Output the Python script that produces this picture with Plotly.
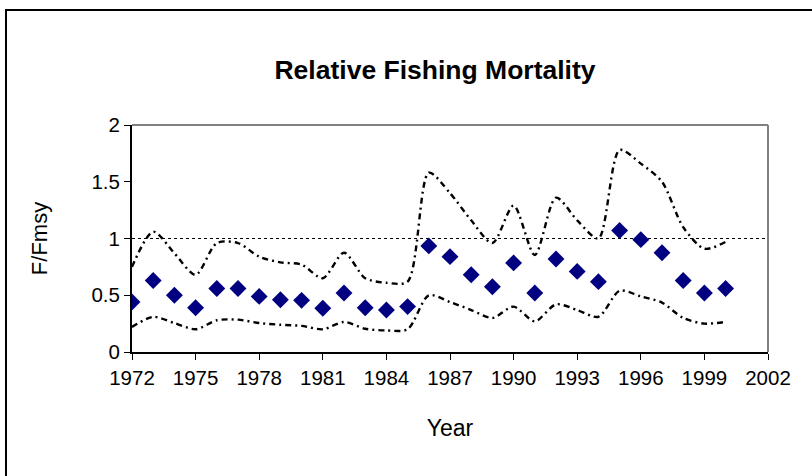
import plotly.graph_objects as go

years = list(range(1972, 2001))
f_ratio = [0.44, 0.63, 0.50, 0.39, 0.56, 0.56, 0.49, 0.46, 0.455, 0.385, 0.52, 0.39, 0.37, 0.40,
           0.935, 0.84, 0.68, 0.575, 0.785, 0.52, 0.82, 0.71, 0.62, 1.07, 0.99, 0.875, 0.63, 0.52, 0.56]
upper = [0.75, 1.06, 0.87, 0.68, 0.96, 0.96, 0.84, 0.79, 0.77, 0.65, 0.875, 0.65, 0.61, 0.62,
         1.58, 1.40, 1.16, 0.96, 1.29, 0.855, 1.36, 1.16, 1.0, 1.78, 1.66, 1.50, 1.10, 0.91, 0.97]
lower = [0.22, 0.31, 0.255, 0.20, 0.28, 0.285, 0.255, 0.24, 0.23, 0.20, 0.265, 0.205, 0.19, 0.20,
         0.50, 0.44, 0.37, 0.30, 0.40, 0.27, 0.42, 0.37, 0.31, 0.54, 0.49, 0.435, 0.30, 0.25, 0.265]
ref_years = [1972, 2002]
ref_vals = [1, 1]
x_ticks = list(range(1972, 2003, 3))
y_ticks = [0, 0.5, 1, 1.5, 2]
y_labels = ["0", "0.5", "1", "1.5", "2"]

FONT = "Liberation Sans, Arial, sans-serif"

fig = go.Figure()
fig.add_trace(go.Scatter(x=ref_years, y=ref_vals, mode="lines",
                         line=dict(color="black", width=1, dash="dot"), hoverinfo="skip"))
fig.add_trace(go.Scatter(x=years, y=upper, mode="lines",
                         line=dict(color="black", width=2.4, dash="6px,4px,2px,4px",
                                   shape="spline", smoothing=0.8)))
fig.add_trace(go.Scatter(x=years, y=lower, mode="lines",
                         line=dict(color="black", width=2.4, dash="6px,4px,2px,4px",
                                   shape="spline", smoothing=0.8)))
fig.add_trace(go.Scatter(x=years, y=f_ratio, mode="markers",
                         marker=dict(symbol="diamond", size=13, color="#000080",
                                     line=dict(width=0))))

W, H = 812, 476
L, R, T, B = 132, 768, 125, 352
pw, ph = R - L, B - T

def px(xp):
    return (xp - L) / pw

def py(yp):
    return (B - yp) / ph

fig.update_layout(
    width=W, height=H,
    margin=dict(l=L, r=W - R, t=T, b=H - B, autoexpand=False),
    paper_bgcolor="white", plot_bgcolor="white",
    showlegend=False,
    font=dict(family=FONT, color="black", size=20),
    title=dict(text="<b>Relative Fishing Mortality</b>", x=435 / W, xanchor="center",
               y=1 - 70 / H, yanchor="middle", font=dict(size=26.5, family=FONT, color="black")),
    xaxis=dict(range=[1972, 2002], tickvals=x_ticks, ticks="outside", ticklen=6, tickwidth=1,
               tickcolor="black", showline=True, linecolor="black", linewidth=2,
               showgrid=False, zeroline=False, tickfont=dict(size=20.5), automargin=False,
               title=dict(text="Year", font=dict(size=23), standoff=32)),
    yaxis=dict(range=[0, 2], tickvals=y_ticks, ticktext=y_labels, ticks="outside", ticklen=6,
               tickwidth=1, tickcolor="black", showline=True, linecolor="black", linewidth=2,
               showgrid=False, zeroline=False, tickfont=dict(size=20.5), automargin=False,
               title=dict(text="F/Fmsy", font=dict(size=22), standoff=38)),
    shapes=[
        dict(type="line", xref="paper", yref="paper", x0=0, x1=1, y0=1, y1=1,
             line=dict(color="#808080", width=2)),
        dict(type="line", xref="paper", yref="paper", x0=1, x1=1, y0=0, y1=1,
             line=dict(color="#808080", width=2)),
        dict(type="rect", xref="paper", yref="paper", x0=px(6), x1=px(830), y0=py(490), y1=py(10),
             line=dict(color="black", width=2), fillcolor="rgba(0,0,0,0)", layer="below"),
    ],
)

fig.write_html("out.html", config={"displayModeBar": False},
               post_script="document.body.style.margin='0';document.body.style.overflow='hidden';")
